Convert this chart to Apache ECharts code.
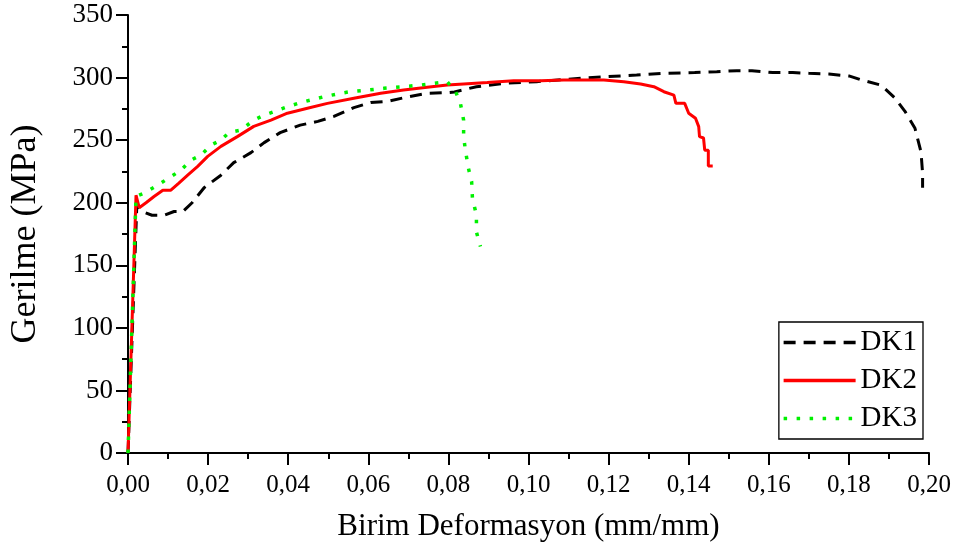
<!DOCTYPE html>
<html>
<head>
<meta charset="utf-8">
<script src="https://cdn.jsdelivr.net/npm/echarts@6/dist/echarts.min.js"></script>
<style>
html,body{margin:0;padding:0;background:#fff;}
#chart{width:963px;height:550px;}
</style>
</head>
<body>
<div id="chart"></div>
<script>
var seriesNames = ['DK1', 'DK2', 'DK3'];
var xTicks = [0, 0.02, 0.04, 0.06, 0.08, 0.10, 0.12, 0.14, 0.16, 0.18, 0.20];
var yTicks = [0, 50, 100, 150, 200, 250, 300, 350];

var dk1 = [[0,0],[0.0022,198],[0.0035,193],[0.006,190],[0.009,190],[0.0115,193],[0.0137,193],[0.016,200],[0.019,212],[0.0232,222],[0.0264,232],[0.0307,240],[0.034,248],[0.038,256],[0.043,262],[0.0474,265],[0.0514,269],[0.0564,276],[0.0606,280],[0.0648,281],[0.0698,284.5],[0.0748,287.5],[0.0798,288],[0.0815,288.5],[0.087,292.7],[0.0945,295.6],[0.102,296.7],[0.1135,299.6],[0.1195,300.7],[0.127,302],[0.1335,303.4],[0.1415,304],[0.147,304.7],[0.152,305.5],[0.1558,305.5],[0.161,304],[0.166,304],[0.17,303.4],[0.175,302.8],[0.18,301.3],[0.1832,298],[0.188,294],[0.1914,284],[0.194,273],[0.1965,259.5],[0.198,240.5],[0.1984,223.7],[0.1984,212]];

var dk2 = [[0,0],[0.002,206],[0.0028,196],[0.0032,197],[0.0045,200],[0.0065,205],[0.0087,210],[0.0107,210],[0.0127,215.7],[0.0149,222],[0.0174,229],[0.0199,237],[0.0232,245],[0.0274,253],[0.0314,261],[0.0357,266],[0.0398,271.5],[0.0448,275.5],[0.0498,279.4],[0.0564,283.4],[0.0631,287.4],[0.0688,290],[0.0747,292.2],[0.0797,294],[0.0838,294.9],[0.0897,296],[0.0963,297.5],[0.103,297.5],[0.1088,298],[0.113,298],[0.1188,298],[0.1238,296.7],[0.128,294.9],[0.1313,292.7],[0.1338,288.7],[0.1363,286],[0.1368,279.4],[0.139,279.4],[0.14,271.5],[0.1417,267.5],[0.1425,260.8],[0.1427,252.8],[0.1437,251.7],[0.144,242],[0.1449,242],[0.1449,229.4],[0.146,229.4]];

var dk3 = [[0,0],[0.002,205],[0.004,207.6],[0.0074,214],[0.0107,220.8],[0.0132,226],[0.0157,234],[0.0182,238],[0.0207,246],[0.0232,250],[0.0252,256],[0.0282,258],[0.0314,266],[0.034,270],[0.0364,272.7],[0.0398,276.7],[0.0431,280],[0.0456,282],[0.0489,284.7],[0.0531,287.4],[0.0556,288.8],[0.0598,290],[0.0639,291.4],[0.0688,292.7],[0.073,294],[0.0763,295.4],[0.0797,296.7],[0.0818,288.7],[0.083,279.4],[0.0838,266],[0.0838,252.8],[0.0843,240.8],[0.085,227.6],[0.0858,216.8],[0.086,203.7],[0.087,190],[0.087,176.6],[0.088,165]];

var FONT = '"Liberation Serif", "Times New Roman", serif';
var chart = echarts.init(document.getElementById('chart'), null, {renderer: 'canvas'});
var axisCommon = {
  axisLine: {show: true, lineStyle: {color: '#000', width: 2}},
  axisTick: {show: true, inside: false, length: 12, lineStyle: {color: '#000', width: 2}},
  minorTick: {show: true, splitNumber: 2, length: 6, lineStyle: {color: '#000', width: 2}},
  splitLine: {show: false},
  minorSplitLine: {show: false}
};
chart.setOption({
  animation: false,
  backgroundColor: '#fff',
  grid: {left: 127, right: 34, top: 15, bottom: 97, containLabel: false},
  xAxis: Object.assign({
    type: 'value',
    min: xTicks[0], max: xTicks[xTicks.length - 1], interval: 0.02,
    name: 'Birim Deformasyon (mm/mm)',
    nameLocation: 'middle', nameGap: 58,
    nameTextStyle: {fontFamily: FONT, fontSize: 31, color: '#000', verticalAlign: 'top', lineHeight: 31},
    axisLabel: {margin: 20, fontFamily: FONT, fontSize: 25, color: '#000',
      formatter: function (v) { return v.toFixed(2).replace('.', ','); }}
  }, axisCommon),
  yAxis: Object.assign({
    type: 'value',
    min: yTicks[0], max: yTicks[yTicks.length - 1], interval: 50,
    name: 'Gerilme (MPa)',
    nameLocation: 'middle', nameGap: 84,
    nameTextStyle: {fontFamily: FONT, fontSize: 36, color: '#000'},
    axisLabel: {margin: 15, fontFamily: FONT, fontSize: 27, color: '#000'}
  }, axisCommon),
  legend: {
    orient: 'vertical',
    right: 40, top: 322,
    width: 146,
    padding: [6, 6, 6, 3],
    itemWidth: 72, itemHeight: 14, itemGap: 9,
    borderColor: '#000', borderWidth: 1.3,
    backgroundColor: '#fff',
    itemStyle: {opacity: 0},
    lineStyle: {width: 3.5},
    textStyle: {fontFamily: FONT, fontSize: 29, color: '#000', lineHeight: 29},
    data: seriesNames
  },
  series: [
    {name: seriesNames[0], type: 'line', data: dk1, showSymbol: false, symbol: 'none',
      lineStyle: {color: '#000', width: 3, type: [12, 8]}, itemStyle: {color: '#000'}, z: 2},
    {name: seriesNames[1], type: 'line', data: dk2, showSymbol: false, symbol: 'none',
      lineStyle: {color: '#ff0000', width: 3}, itemStyle: {color: '#ff0000'}, z: 3},
    {name: seriesNames[2], type: 'line', data: dk3, showSymbol: false, symbol: 'none',
      lineStyle: {color: '#00f000', width: 3.5, type: [3.5, 9.5]}, itemStyle: {color: '#00f000'}, z: 4}
  ]
});
</script>
</body>
</html>
